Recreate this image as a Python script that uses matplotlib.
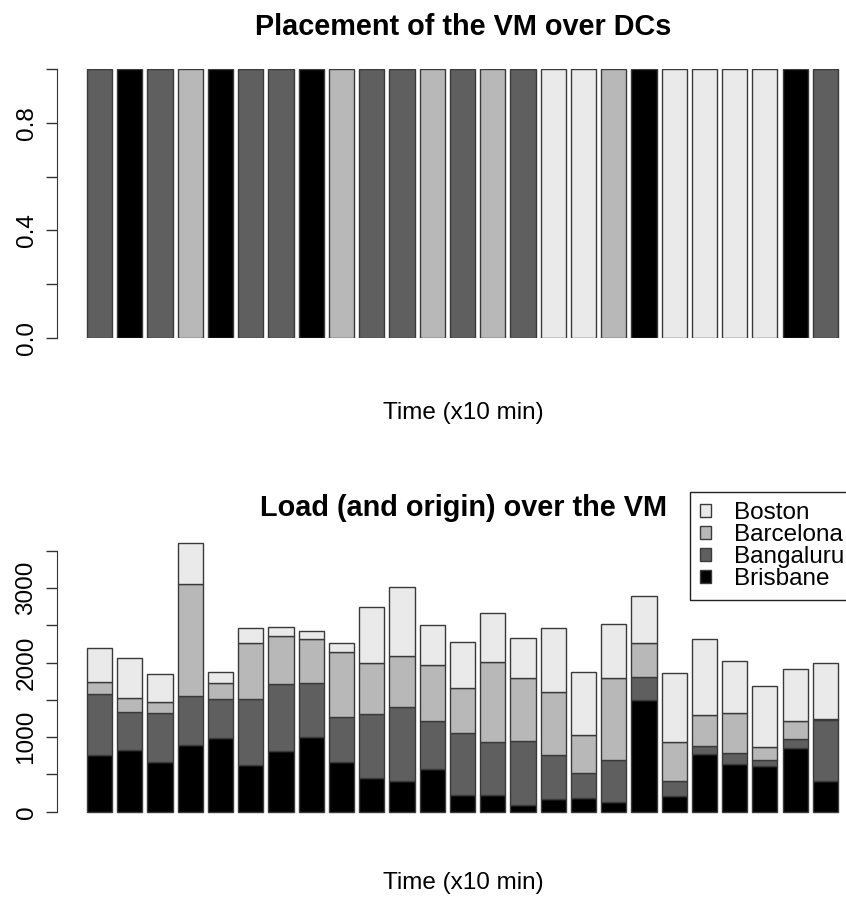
import matplotlib
matplotlib.use("Agg")
import matplotlib.pyplot as plt
import numpy as np

plt.rcParams['font.family'] = ['Liberation Sans', 'DejaVu Sans']

# data centres, bottom of the stack first
dcs = ['Brisbane', 'Bangaluru', 'Barcelona', 'Boston']
colors = {'Brisbane': '#000000', 'Bangaluru': '#5f5f5f',
          'Barcelona': '#b8b8b8', 'Boston': '#eaeaea'}

# where the VM sits at each time step
placement = ['Bangaluru', 'Brisbane', 'Bangaluru', 'Barcelona', 'Brisbane',
             'Bangaluru', 'Bangaluru', 'Brisbane', 'Barcelona', 'Bangaluru',
             'Bangaluru', 'Barcelona', 'Bangaluru', 'Barcelona', 'Bangaluru',
             'Boston', 'Boston', 'Barcelona', 'Brisbane', 'Boston',
             'Boston', 'Boston', 'Boston', 'Brisbane', 'Bangaluru']

# load on the VM by origin
brisbane = [761, 828, 671, 895, 985, 627, 819, 1007, 671, 448, 416, 569, 224,
            224, 90, 166, 185, 134, 1499, 211, 774, 640, 613, 851, 412]
bangaluru = [819, 514, 658, 662, 524, 882, 891, 716, 604, 859, 985, 652, 828,
             716, 859, 595, 330, 560, 313, 201, 112, 152, 81, 125, 819]
barcelona = [165, 180, 148, 1495, 214, 751, 652, 595, 865, 693, 693, 748, 604,
             1073, 850, 842, 510, 1105, 448, 528, 412, 537, 178, 245, 10]
boston = [448, 537, 367, 559, 156, 202, 121, 112, 120, 743, 926, 541, 626,
          658, 528, 859, 854, 721, 639, 918, 1016, 694, 819, 690, 761]

load = {'Brisbane': brisbane, 'Bangaluru': bangaluru,
        'Barcelona': barcelona, 'Boston': boston}

W, H = 846, 900
fig = plt.figure(figsize=(W / 100, H / 100), dpi=100)

x = np.arange(len(placement))
bw = 1 / 1.2
xlim = (-0.4167 - 30 / 30.24, -0.4167 - 30 / 30.24 + 789 / 30.24)
edge = '#3a3a3a'
fs = 17.5
tfs = 20.8


def style_axis(ax, ticks, labels, top):
    for s in ['top', 'right', 'bottom']:
        ax.spines[s].set_visible(False)
    ax.spines['left'].set_bounds(0, top)
    ax.spines['left'].set_color('#333333')
    ax.set_xticks([])
    ax.set_yticks(ticks)
    ax.set_yticklabels(labels, rotation=90, va='center', fontsize=fs)
    ax.tick_params(axis='y', length=8, width=1, color='#333333', pad=6)
    ax.set_xlim(*xlim)


# top: placement
ax1 = fig.add_axes([57 / W, (H - 337.7) / H, 789 / W, 268.4 / H])
ax1.bar(x, np.ones(len(x)), width=bw, color=[colors[p] for p in placement],
        edgecolor=edge, linewidth=1.0)
ax1.set_ylim(0, 1)
style_axis(ax1, [0, 0.2, 0.4, 0.6, 0.8, 1.0],
           ['0.0', '', '0.4', '', '0.8', ''], 1.0)

# bottom: load
ymax = 3700
ax2 = fig.add_axes([57 / W, (H - 811.7) / H, 789 / W, ymax * 0.0745 / H])
bottom = np.zeros(len(x))
for dc in dcs:
    ax2.bar(x, load[dc], bottom=bottom, width=bw, color=colors[dc],
            edgecolor=edge, linewidth=1.0, label=dc, clip_on=False)
    bottom += np.array(load[dc])
ax2.set_ylim(0, ymax)
style_axis(ax2, np.arange(0, 3501, 500),
           ['0', '', '1000', '', '2000', '', '3000', ''], 3500)

handles, labels = ax2.get_legend_handles_labels()
leg = ax2.legend(handles[::-1], labels[::-1], loc='upper left',
                 bbox_to_anchor=(690 / W, (H - 491.7) / H),
                 bbox_transform=fig.transFigure, fontsize=fs, frameon=True,
                 fancybox=False, edgecolor='#222222', framealpha=1,
                 handlelength=0.45, handleheight=0.45, handletextpad=0.95,
                 labelspacing=0.0, borderpad=0.42, borderaxespad=0)
leg.get_frame().set_linewidth(1.0)

cx = 463 / W
fig.text(cx, 1 - 27 / H, 'Placement of the VM over DCs', ha='center',
         va='center', fontsize=tfs, fontweight='bold')
fig.text(cx, 1 - 413 / H, 'Time (x10 min)', ha='center', va='center',
         fontsize=fs)
fig.text(cx, 1 - 508 / H, 'Load (and origin) over the VM', ha='center',
         va='center', fontsize=tfs, fontweight='bold')
fig.text(cx, 1 - 883 / H, 'Time (x10 min)', ha='center', va='center',
         fontsize=fs)

fig.savefig('out.png', dpi=100)
